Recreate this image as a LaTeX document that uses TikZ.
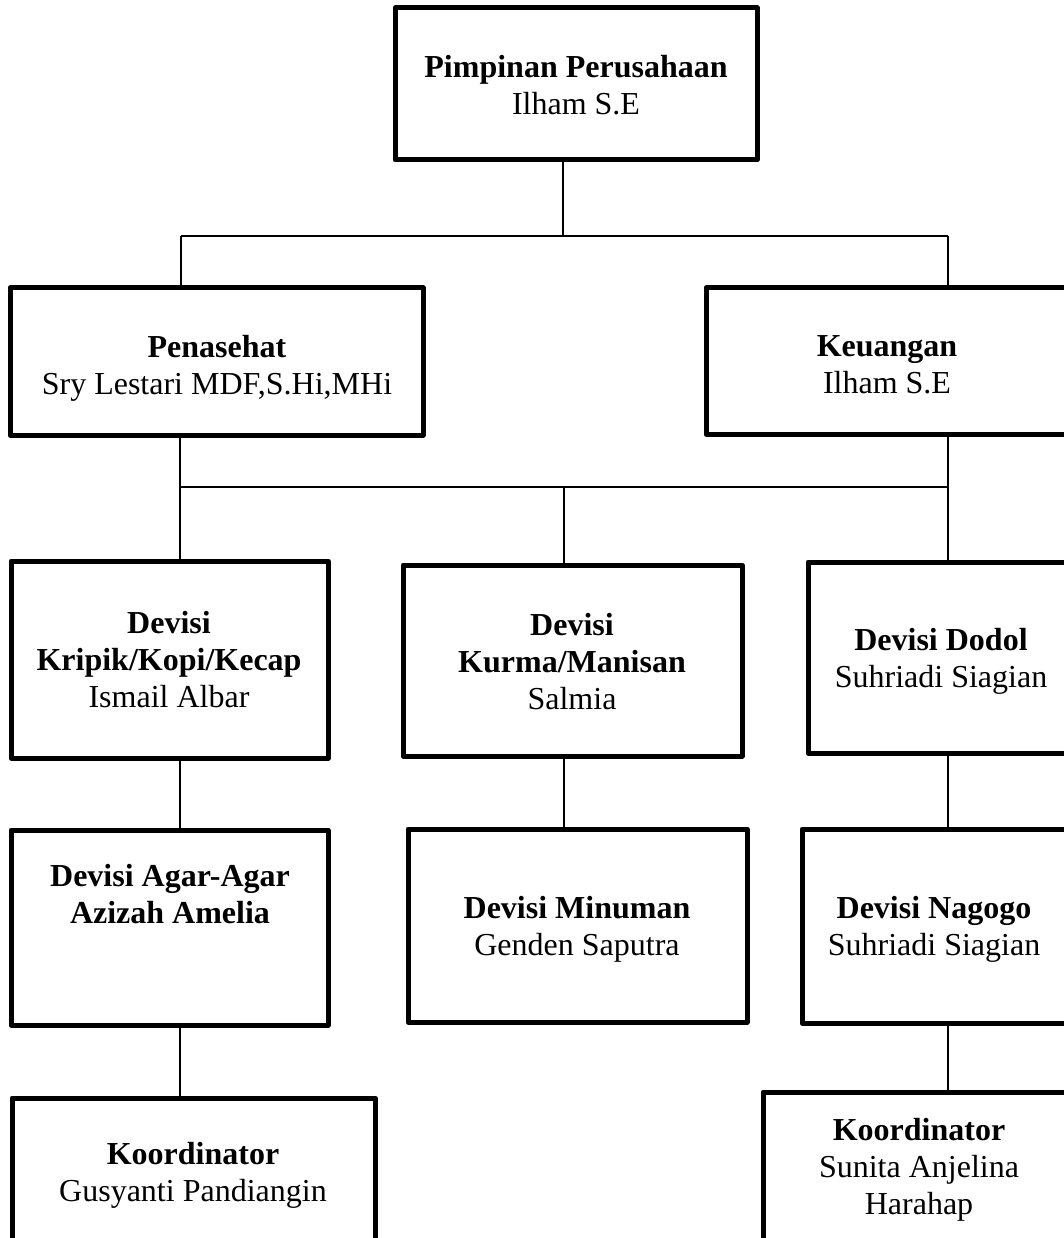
\documentclass[tikz,border=0pt]{standalone}
\usepackage{fontspec}
\setmainfont{Liberation Serif}
\newcommand\mlines[1]{\begin{tabular}[t]{@{}c@{}}#1\end{tabular}}
\begin{document}
\begin{tikzpicture}[x=1pt,y=-1pt,
  box/.style={draw, line width=5pt, line join=round, rectangle, inner sep=0pt, outer sep=0pt, anchor=north west},
  conn/.style={line width=1.6pt},
  txt/.style={anchor=base, inner sep=0pt, font=\fontsize{32}{37}\selectfont}]
\useasboundingbox (0,0) rectangle (1064,1238);
\clip (0,0) rectangle (1064,1238);
\fill[white] (0,0) rectangle (1064,1238);
% boxes
\node[box, minimum width=362pt, minimum height=152pt] (top) at (395,8) {};
\node[box, minimum width=413pt, minimum height=147pt] (pen) at (10,288) {};
\node[box, minimum width=362pt, minimum height=146pt] (keu) at (706,288) {};
\node[box, minimum width=317pt, minimum height=197pt] (krip) at (11,561) {};
\node[box, minimum width=339pt, minimum height=191pt] (kurma) at (403,565) {};
\node[box, minimum width=266pt, minimum height=191pt] (dodol) at (808,562) {};
\node[box, minimum width=317pt, minimum height=195pt] (agar) at (11,830) {};
\node[box, minimum width=339pt, minimum height=193pt] (minum) at (408,829) {};
\node[box, minimum width=265pt, minimum height=194pt] (nagogo) at (802,829) {};
\node[box, minimum width=363pt, minimum height=160pt] (koorL) at (12,1098) {};
\node[box, minimum width=312pt, minimum height=160pt] (koorR) at (763,1092) {};
% texts
\node[txt] (ttop) at (576,78) {\mlines{\textbf{Pimpinan Perusahaan}\\Ilham S.E}};
\node[txt] (tpen) at (217,357) {\mlines{\textbf{Penasehat}\\Sry Lestari MDF,S.Hi,MHi}};
\node[txt] (tkeu) at (887,356) {\mlines{\textbf{Keuangan}\\Ilham S.E}};
\node[txt] (tkrip) at (169,633) {\mlines{\textbf{Devisi}\\\textbf{Kripik/Kopi/Kecap}\\Ismail Albar}};
\node[txt] (tkurma) at (572,635) {\mlines{\textbf{Devisi}\\\textbf{Kurma/Manisan}\\Salmia}};
\node[txt] (tdodol) at (941,650) {\mlines{\textbf{Devisi Dodol}\\Suhriadi Siagian}};
\node[txt] (tagar) at (170,886) {\mlines{\textbf{Devisi Agar-Agar}\\\textbf{Azizah Amelia}}};
\node[txt] (tminum) at (577,918) {\mlines{\textbf{Devisi Minuman}\\Genden Saputra}};
\node[txt] (tnagogo) at (934,918) {\mlines{\textbf{Devisi Nagogo}\\Suhriadi Siagian}};
\node[txt] (tkoorL) at (193,1164) {\mlines{\textbf{Koordinator}\\Gusyanti Pandiangin}};
\node[txt] (tkoorR) at (919,1140) {\mlines{\textbf{Koordinator}\\Sunita Anjelina\\Harahap}};
% connectors
\coordinate (a1) at (181,236);
\coordinate (a2) at (563,236);
\coordinate (a3) at (948,236);
\coordinate (b1) at (180,487);
\coordinate (b2) at (564,487);
\coordinate (b3) at (948,487);
\draw[conn] (a2 |- top.south) -- (a2);
\draw[conn] (a1) -- (a3);
\draw[conn] (a1) -- (a1 |- pen.north);
\draw[conn] (a3) -- (a3 |- keu.north);
\draw[conn] (b1 |- pen.south) -- (b1 |- krip.north);
\draw[conn] (b1) -- (b3);
\draw[conn] (b3 |- keu.south) -- (b3 |- dodol.north);
\draw[conn] (b2) -- (b2 |- kurma.north);
\draw[conn] (b1 |- krip.south) -- (b1 |- agar.north);
\draw[conn] (b1 |- agar.south) -- (b1 |- koorL.north);
\draw[conn] (b2 |- kurma.south) -- (b2 |- minum.north);
\draw[conn] (b3 |- dodol.south) -- (b3 |- nagogo.north);
\draw[conn] (b3 |- nagogo.south) -- (b3 |- koorR.north);
\end{tikzpicture}
\end{document}
